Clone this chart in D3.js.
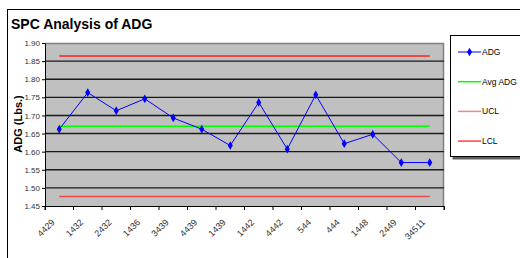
<!DOCTYPE html>
<html>
<head>
<meta charset="utf-8">
<script src="https://cdn.jsdelivr.net/npm/d3@7"></script>
<style>
  body { margin: 0; background: #fff; }
  svg text { font-family: "Liberation Sans", Arial, sans-serif; }
</style>
</head>
<body>
<svg id="chart" width="520" height="258"></svg>
<script>
// chart values
var categories = ["4429","1432","2432","1436","3439","4439","1439","1442","4442","544","444","1448","2449","34511"];
var adg = [1.662,1.763,1.713,1.746,1.693,1.662,1.617,1.736,1.607,1.757,1.622,1.648,1.570,1.570];
var avgAdg = 1.670;
var ucl = 1.864;
var lcl = 1.476;
var yTicks = [1.45,1.50,1.55,1.60,1.65,1.70,1.75,1.80,1.85,1.90];
var legendNames = ["ADG","Avg ADG","UCL","LCL"];

var svg = d3.select("svg#chart");
var margin = {top: 43, left: 45, right: 76, bottom: 52};
var width = 520 - margin.left - margin.right;   // 399
var height = 258 - margin.top - margin.bottom;  // 163

// outer chart frame (runs off the right/bottom edge)
svg.append("rect")
	.attr("x", 7.5).attr("y", 9.5)
	.attr("width", 530).attr("height", 260)
	.attr("fill", "#fff").attr("stroke", "#000").attr("stroke-width", 1);

svg.append("text")
	.attr("x", 11).attr("y", 29)
	.style("font-size", "14px").style("font-weight", "bold")
	.text("SPC Analysis of ADG");

var x = d3.scaleBand().domain(categories).range([0, width]);
var y = d3.scaleLinear().domain([1.45, 1.90]).range([height, 0]);

var g = svg.append("g")
	.attr("transform", "translate(" + margin.left + "," + margin.top + ")");

// plot area
g.append("rect")
	.attr("width", width).attr("height", height)
	.attr("fill", "#c0c0c0");
g.append("path")
	.attr("d", "M0,0.5H" + (width - 0.5) + "V" + height)
	.attr("fill", "none").attr("stroke", "#808080").attr("stroke-width", 1.5);

// gridlines
g.append("g").selectAll("line")
	.data(yTicks.slice(1, -1))
	.enter()
	.append("line")
	.attr("x1", 0).attr("x2", width)
	.attr("y1", function(d){ return y(d); })
	.attr("y2", function(d){ return y(d); })
	.attr("stroke", "#1a1a1a").attr("stroke-width", 1.4);

// axes
var yAxis = d3.axisLeft(y).tickValues(yTicks).tickFormat(d3.format(".2f")).tickSize(3).tickPadding(2);
var yg = g.append("g").call(yAxis);
yg.select(".domain").attr("stroke", "#000");
yg.selectAll("text").style("font-size", "8px").style("fill", "#333");

var xAxis = d3.axisBottom(x).tickSize(4).tickFormat("");
var xg = g.append("g").attr("transform", "translate(0," + height + ")").call(xAxis);
xg.select(".domain").attr("stroke", "#000");
// Excel style: ticks between categories
xg.selectAll(".tick").remove();
var bounds = d3.range(categories.length + 1).map(function(i){ return i * x.step(); });
xg.selectAll("line.bt")
	.data(bounds)
	.enter()
	.append("line")
	.attr("class", "bt")
	.attr("x1", function(d){ return d; }).attr("x2", function(d){ return d; })
	.attr("y1", 0).attr("y2", 4)
	.attr("stroke", "#000");

xg.selectAll("text.lbl")
	.data(categories)
	.enter()
	.append("text")
	.attr("class", "lbl")
	.attr("text-anchor", "end")
	.style("font-size", "9px")
	.style("fill", "#333")
	.attr("transform", function(d){
		return "translate(" + (x(d) + x.bandwidth()/2 - 4) + ",17) rotate(-45)";
	})
	.text(function(d){ return d; });

// y title
svg.append("text")
	.attr("transform", "translate(21.5,124) rotate(-90)")
	.attr("text-anchor", "middle")
	.style("font-size", "11px").style("font-weight", "bold")
	.text("ADG (Lbs.)");

var cx = function(d){ return x(d) + x.bandwidth()/2; };
var x0 = cx(categories[0]), x1 = cx(categories[categories.length - 1]);

// control lines
var refs = [{v: ucl, c: "#ff2020"}, {v: lcl, c: "#f04848"}, {v: avgAdg, c: "#00ff00"}];
g.append("g").selectAll("line")
	.data(refs)
	.enter()
	.append("line")
	.attr("x1", x0).attr("x2", x1)
	.attr("y1", function(d){ return y(d.v); })
	.attr("y2", function(d){ return y(d.v); })
	.attr("stroke", function(d){ return d.c; })
	.attr("stroke-width", 1.5);

// ADG series
var line = d3.line()
	.x(function(d, i){ return cx(categories[i]); })
	.y(function(d){ return y(d); });
g.append("path")
	.datum(adg)
	.attr("d", line)
	.attr("fill", "none").attr("stroke", "#0000ff").attr("stroke-width", 1);

var diamond = d3.symbol().type(d3.symbolDiamond).size(22);
g.append("g").selectAll("path")
	.data(adg)
	.enter()
	.append("path")
	.attr("d", diamond)
	.attr("transform", function(d, i){ return "translate(" + cx(categories[i]) + "," + y(d) + ")"; })
	.attr("fill", "#0000ff");

// legend
svg.append("rect")
	.attr("x", 452.5).attr("y", 37.5).attr("width", 70).attr("height", 122)
	.attr("fill", "#606060");
svg.append("rect")
	.attr("x", 450.5).attr("y", 35.5).attr("width", 70).attr("height", 121)
	.attr("fill", "#fff").attr("stroke", "#000");

var legendColors = ["#0000ff", "#00ff00", "#ff8080", "#ff4040"];
var lg = svg.append("g").selectAll("g")
	.data(legendNames)
	.enter()
	.append("g")
	.attr("transform", function(d, i){ return "translate(458," + (52 + i * 29.7) + ")"; });
lg.append("line")
	.attr("x1", 0).attr("x2", 23)
	.attr("stroke", function(d, i){ return legendColors[i]; })
	.attr("stroke-width", function(d, i){ return i == 0 ? 1 : 1.5; });
lg.filter(function(d, i){ return i == 0; })
	.append("path")
	.attr("d", diamond)
	.attr("transform", "translate(11.5,0)")
	.attr("fill", "#0000ff");
lg.append("text")
	.attr("x", 24).attr("dy", "0.35em")
	.style("font-size", "8.5px")
	.text(function(d){ return d; });
</script>
</body>
</html>
